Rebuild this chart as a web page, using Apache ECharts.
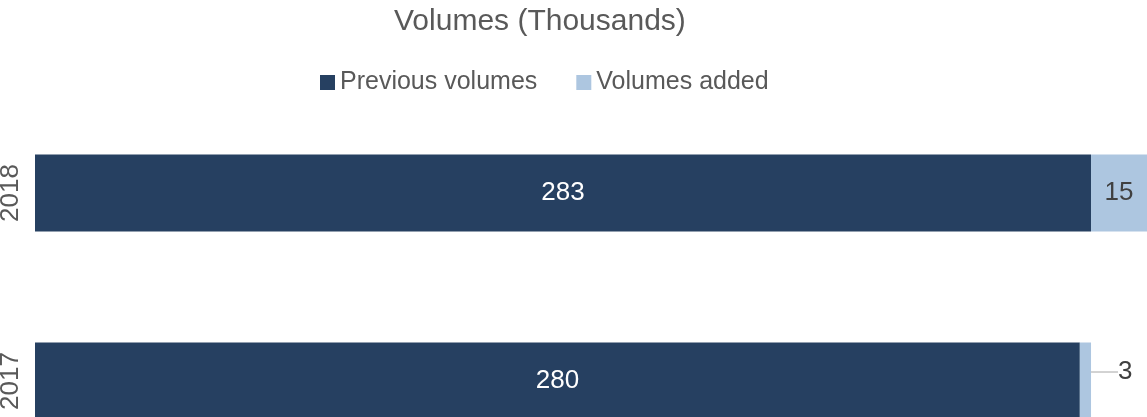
<!DOCTYPE html>
<html>
<head>
<meta charset="utf-8">
<script src="https://cdn.jsdelivr.net/npm/echarts@6/dist/echarts.min.js"></script>
<style>
  html, body { margin: 0; padding: 0; background: #fff; }
  #chart { width: 1147px; height: 417px; }
</style>
</head>
<body>
<div id="chart"></div>
<script>
// 数据
var years = ["2017", "2018"];
var previousVolumes = [280, 283];
var volumesAdded = [3, 15];

var chart = echarts.init(document.getElementById("chart"));

var option = {
  animation: false,
  textStyle: { fontFamily: "Liberation Sans, Arial, sans-serif" },
  title: {
    text: "Volumes (Thousands)",
    left: 389,
    top: 2,
    textStyle: { fontSize: 30, fontWeight: "normal", color: "#595959" }
  },
  legend: {
    top: 65,
    left: 315,
    itemWidth: 15,
    itemHeight: 15,
    itemGap: 39,
    icon: "rect",
    textStyle: { fontSize: 25, color: "#595959" },
    data: ["Previous volumes", "Volumes added"]
  },
  grid: { left: 35, right: 0, top: 99, bottom: -58, outerBoundsMode: "none", containLabel: false },
  xAxis: {
    type: "value",
    min: 0,
    max: 298,
    show: false
  },
  yAxis: {
    type: "category",
    data: years,
    axisLine: { show: false },
    axisTick: { show: false },
    axisLabel: { rotate: 90, fontSize: 26, color: "#595959", margin: 11 }
  },
  series: [
    {
      name: "Previous volumes",
      type: "bar",
      stack: "total",
      barWidth: 77,
      itemStyle: { color: "#264061" },
      label: { show: true, position: "inside", color: "#fff", fontSize: 26 },
      data: previousVolumes
    },
    {
      name: "Volumes added",
      type: "bar",
      stack: "total",
      barWidth: 77,
      itemStyle: { color: "#adc6e0" },
      label: { show: true, position: "inside", color: "#404040", fontSize: 26 },
      labelLine: { show: true, lineStyle: { color: "#a6a6a6", width: 1 } },
      labelLayout: function (params) {
        if (params.dataIndex === 0) {
          return {
            x: params.rect.x + params.rect.width + 27,
            y: params.rect.y + params.rect.height / 2 - 9,
            verticalAlign: "middle",
            align: "left"
          };
        }
      },
      data: volumesAdded.map(function (v, i) {
        return i === 0 ? { value: v, label: { position: "right" } } : v;
      })
    }
  ]
};

chart.setOption(option);
</script>
</body>
</html>
